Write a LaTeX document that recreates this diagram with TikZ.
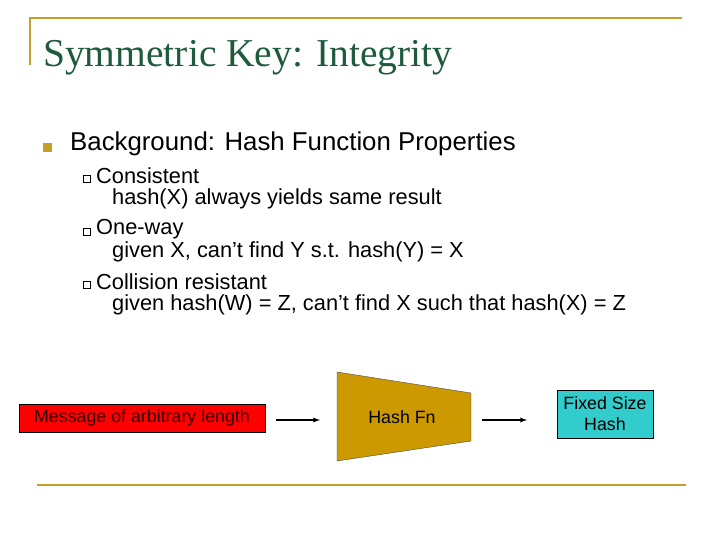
\documentclass[tikz,border=0pt]{standalone}
\usepackage{fontspec}
\setmainfont{Liberation Sans}
\newfontfamily\titlefont{Liberation Serif}
\definecolor{gold}{RGB}{196,160,40}
\definecolor{tgreen}{RGB}{30,90,60}
\definecolor{hashfill}{RGB}{204,153,0}
\definecolor{cyanfill}{RGB}{51,204,204}
\begin{document}
\begin{tikzpicture}[x=1pt,y=-1pt,
  rule/.style={draw=gold,line width=2pt},
  lvl/.style={anchor=west,inner sep=0pt,font=\fontsize{21.8}{24}\selectfont},
  arr/.style={-latex,line width=1.3pt}]
\useasboundingbox[fill=white] (0,0) rectangle (720,540);
\draw[rule] (30,65) -- (30,18) -- (682,18);
\draw[rule] (37,485) -- (686,485);
\node[anchor=base west,inner sep=0pt,text=tgreen,font=\titlefont\fontsize{39.5}{42}\selectfont] (title) at (43,67) {Symmetric Key: Integrity};
\node[fill=gold,minimum size=9pt,inner sep=0pt] (b0) at (47,148) {};
\node[lvl,font=\fontsize{25.8}{28}\selectfont] (t0) at (70,144) {Background: Hash Function Properties};
\foreach \y/\a/\b [count=\i] in {176/Consistent/hash(X) always yields same result,
  229/One-way/{given X, can’t find Y s.t. hash(Y) = X},
  282/Collision resistant/{given hash(W) = Z, can’t find X such that hash(X) = Z}}{
  \node[draw=black,line width=0.5pt,minimum size=7pt,inner sep=0pt] (q\i) at (87,\y+3) {};
  \node[lvl] (a\i) at (96,\y) {\a};
  \node[lvl] (c\i) at (112,\y+23) {\b};
}
\node[draw=black,fill=red,minimum width=246pt,minimum height=28pt,inner sep=0pt,font=\fontsize{17.8}{20}\selectfont,text=black!80!red] (msg) at (142,418) {Message of arbitrary length};
\draw[fill=hashfill,draw=black!70] (337,372) -- (471,393) -- (471,441) -- (337,461) -- cycle;
\node[font=\fontsize{17.8}{20}\selectfont] (hf) at (402,417) {Hash Fn};
\node[draw=black,fill=cyanfill,minimum width=96pt,minimum height=48pt,inner sep=0pt,align=center,font=\fontsize{17.8}{21}\selectfont] (fh) at (605,414) {Fixed Size\\Hash};
\coordinate (a1s) at (276,420); \coordinate (a1e) at (320,420);
\coordinate (a2s) at (482,420); \coordinate (a2e) at (527,420);
\draw[arr] (a1s) -- (a1e);
\draw[arr] (a2s) -- (a2e);
\end{tikzpicture}
\end{document}
